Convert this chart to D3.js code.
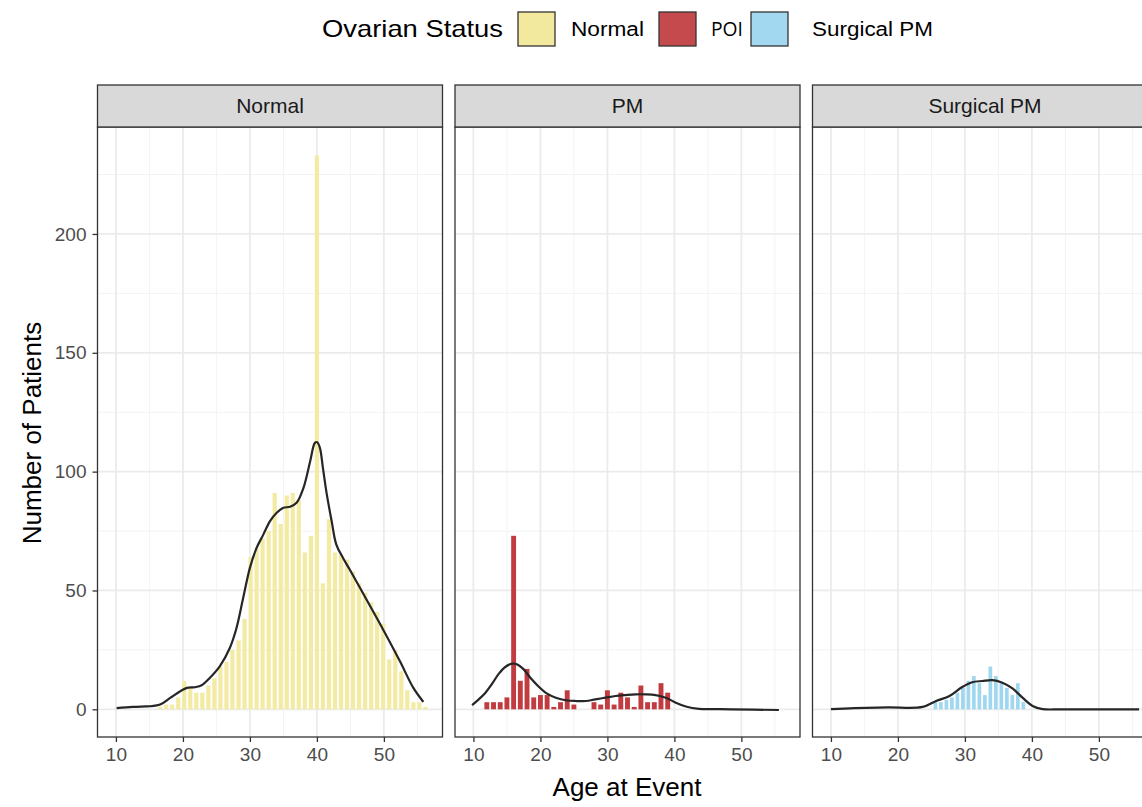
<!DOCTYPE html>
<html>
<head>
<meta charset="utf-8">
<script src="https://cdn.jsdelivr.net/npm/d3@7"></script>
<style>
body{margin:0;background:#fff;}
svg text{font-family:"Liberation Sans",Arial,sans-serif;}
</style>
</head>
<body>
<div id="canvas"></div>
<script>
//data
var panels = ['Normal','PM','Surgical PM'];
var legendLabels = ['Normal','POI','Surgical PM'];
var xTicks = [10,20,30,40,50],
    xMinor = [15,25,35,45,55];
var yTicks = [0,50,100,150,200],
    yMinor = [25,75,125,175,225];

//histograms: centre of first bin, bin width, counts
var normalStart = 10.3, normalWidth = 0.9;
var normalCounts = [0,0,0,0,0,0,0,1,2,2,5,12,9,7,7,10,13,18,20,25,29,38,
    64,68,72,75,91,78,90,91,88,66,73,233,53,80,66,65,63,58,53,49,45,41,36,21,25,16,8,3,3,1];
var pmStart = 12, pmWidth = 1;
var pmCounts = [3,3,3,5,73,12,17,5,6,6,1,3,8,2,0,0,3,2,8,2,7,5,1,10,3,3,11,7];
var surgStart = 25.6, surgWidth = 0.82;
var surgCounts = [3,3,4,5,7,9,12,14,11,6,18,14,11,9,6,11,3];

//density curves [age, count]
var normalDensity = [[10.1,0.5],[12.5,1],[14.5,1.2],[15.1,1.3],[16.6,2],[18.1,4.8],[19.6,7.6],[20.6,9],
    [21.8,9.3],[22.8,10.1],[24,13.2],[25.5,18.1],[27,25.8],[28,34.2],[29,46.9],[30,59.5],[31,67.9],
    [32,73.5],[33,79.2],[34,82.7],[35,84.8],[36,85.2],[37,87],[38,93.2],[39,104.4],[39.7,112.1],
    [40.05,112.4],[40.45,110],[40.9,101.6],[41.4,91.8],[42.2,79.2],[42.9,69.3],[43.9,63.7],[44.9,58.8],
    [47.4,46.2],[49.9,33.5],[52.4,20.2],[54.4,9],[55.9,3.1]];
var pmDensity = [[9.8,1.8],[10.8,4.2],[11.8,7],[12.8,10.8],[13.8,15],[14.8,17.9],[15.8,19.2],[16.55,18.9],
    [17.5,16.8],[18.5,13.3],[19.8,9.4],[21,6.6],[22.3,4.9],[23.8,3.8],[25.3,3.5],[26.8,3.5],[28.2,4.2],
    [29.7,4.9],[31.2,5.6],[32.7,6],[34.2,6.3],[35.7,6.3],[37.2,6],[38.7,4.9],[40.2,2.8],[41.7,1.2],
    [43.7,0.2],[46,0.1],[48.6,0],[55.6,-0.3]];
var surgDensity = [[10,0.1],[13.5,0.5],[18.5,0.8],[23.7,1],[25.7,3.5],[27.7,5.6],[29.6,9.4],[31.1,11.4],
    [32.6,11.9],[34.1,12.3],[35.6,11.2],[37.1,8.8],[38.6,4.9],[40.1,1.4],[41.6,0.1],[44.6,0],[56,0]];

var series = [
    {start:normalStart, width:normalWidth, counts:normalCounts, density:normalDensity, fill:'#F3EBA4'},
    {start:pmStart, width:pmWidth, counts:pmCounts, density:pmDensity, fill:'#C13C41'},
    {start:surgStart, width:surgWidth, counts:surgCounts, density:surgDensity, fill:'#A0D7F0'}
];
var legendFill = ['#F3E99E','#C54A4E','#A3D9F0'];

//layout
var W = 1142, H = 807;
var panelW = 345, panelH = 610, panelTop = 127, stripH = 42;
var panelLeft = [97.5, 455, 812.5];

var svg = d3.select('#canvas')
    .append('svg')
    .attr('width',W)
    .attr('height',H);

var scaleX = d3.scaleLinear().domain([7.25,58.75]).range([0,panelW]);
var scaleY = d3.scaleLinear().domain([-11.65,245]).range([panelH,0]);

var line = d3.line()
    .x(function(d){return scaleX(d[0])})
    .y(function(d){return scaleY(d[1])})
    .curve(d3.curveCatmullRom);

series.forEach(function(s,i){
    var g = svg.append('g')
        .attr('transform','translate(' + panelLeft[i] + ',' + panelTop + ')');

    //grid
    g.selectAll('.ymin').data(yMinor).enter().append('line')
        .attr('x1',0).attr('x2',panelW)
        .attr('y1',function(d){return scaleY(d)}).attr('y2',function(d){return scaleY(d)})
        .attr('stroke','#F3F3F3').attr('stroke-width',1);
    g.selectAll('.xmin').data(xMinor).enter().append('line')
        .attr('y1',0).attr('y2',panelH)
        .attr('x1',function(d){return scaleX(d)}).attr('x2',function(d){return scaleX(d)})
        .attr('stroke','#F3F3F3').attr('stroke-width',1);
    g.selectAll('.ymaj').data(yTicks).enter().append('line')
        .attr('x1',0).attr('x2',panelW)
        .attr('y1',function(d){return scaleY(d)}).attr('y2',function(d){return scaleY(d)})
        .attr('stroke','#EBEBEB').attr('stroke-width',1.8);
    g.selectAll('.xmaj').data(xTicks).enter().append('line')
        .attr('y1',0).attr('y2',panelH)
        .attr('x1',function(d){return scaleX(d)}).attr('x2',function(d){return scaleX(d)})
        .attr('stroke','#EBEBEB').attr('stroke-width',1.8);

    //bars
    var bins = s.counts.map(function(c,k){
        return {x0:s.start + (k - 0.5)*s.width, x1:s.start + (k + 0.5)*s.width, n:c};
    }).filter(function(d){return d.n > 0});
    g.selectAll('rect.bar').data(bins).enter().append('rect')
        .attr('class','bar')
        .attr('x',function(d){return scaleX(d.x0) + 0.9})
        .attr('width',function(d){return scaleX(d.x1) - scaleX(d.x0) - 1.8})
        .attr('y',function(d){return scaleY(d.n)})
        .attr('height',function(d){return scaleY(0) - scaleY(d.n)})
        .attr('fill',s.fill);

    //density
    g.append('path')
        .datum(s.density)
        .attr('d',line)
        .attr('fill','none')
        .attr('stroke','#262626')
        .attr('stroke-width',2.2);

    //panel border
    g.append('rect')
        .attr('width',panelW).attr('height',panelH)
        .attr('fill','none').attr('stroke','#333').attr('stroke-width',1.3);

    //strip
    g.append('rect')
        .attr('y',-stripH).attr('width',panelW).attr('height',stripH)
        .attr('fill','#D9D9D9').attr('stroke','#333').attr('stroke-width',1.3);
    g.append('text')
        .attr('x',panelW/2).attr('y',-stripH/2)
        .attr('dy','0.35em')
        .attr('text-anchor','middle')
        .style('font-size','21px')
        .attr('fill','#1A1A1A')
        .text(panels[i]);

    //x axis
    var axisX = d3.axisBottom(scaleX).tickValues(xTicks).tickSize(5).tickPadding(6);
    var ax = g.append('g')
        .attr('transform','translate(0,' + panelH + ')')
        .call(axisX);
    ax.select('.domain').remove();
    ax.selectAll('line').attr('stroke','#333').attr('stroke-width',1.3);
    ax.selectAll('text').style('font-size','19px').attr('fill','#4D4D4D')
        .style('font-family','"Liberation Sans",Arial,sans-serif');

    //y axis only on first panel
    if(i == 0){
        var axisY = d3.axisLeft(scaleY).tickValues(yTicks).tickSize(5).tickPadding(6);
        var ay = g.append('g').call(axisY);
        ay.select('.domain').remove();
        ay.selectAll('line').attr('stroke','#333').attr('stroke-width',1.3);
        ay.selectAll('text').style('font-size','19px').attr('fill','#4D4D4D')
            .style('font-family','"Liberation Sans",Arial,sans-serif');
    }
});

//axis titles
svg.append('text')
    .attr('x',627).attr('y',787)
    .attr('dy','0.35em')
    .attr('text-anchor','middle')
    .style('font-size','26px')
    .text('Age at Event');
svg.append('text')
    .attr('transform','translate(32,433) rotate(-90)')
    .attr('dy','0.35em')
    .attr('text-anchor','middle')
    .style('font-size','26px')
    .text('Number of Patients');

//legend
var legend = svg.append('g');
legend.append('text')
    .attr('x',322).attr('y',29).attr('dy','0.35em')
    .attr('textLength',181).attr('lengthAdjust','spacingAndGlyphs')
    .style('font-size','24px')
    .text('Ovarian Status');
var keyX = [518,659,751],
    labelX = [571,711,812],
    labelW = [73,32,121];
legendLabels.forEach(function(l,i){
    legend.append('rect')
        .attr('x',keyX[i]).attr('y',12)
        .attr('width',37).attr('height',34)
        .attr('fill',legendFill[i])
        .attr('stroke','#333').attr('stroke-width',1.3);
    legend.append('text')
        .attr('x',labelX[i]).attr('y',29).attr('dy','0.35em')
        .attr('textLength',labelW[i]).attr('lengthAdjust','spacingAndGlyphs')
        .style('font-size','20px')
        .style('font-family', i == 1 ? '"Open Sans",sans-serif' : null)
        .text(l);
});
</script>
</body>
</html>
